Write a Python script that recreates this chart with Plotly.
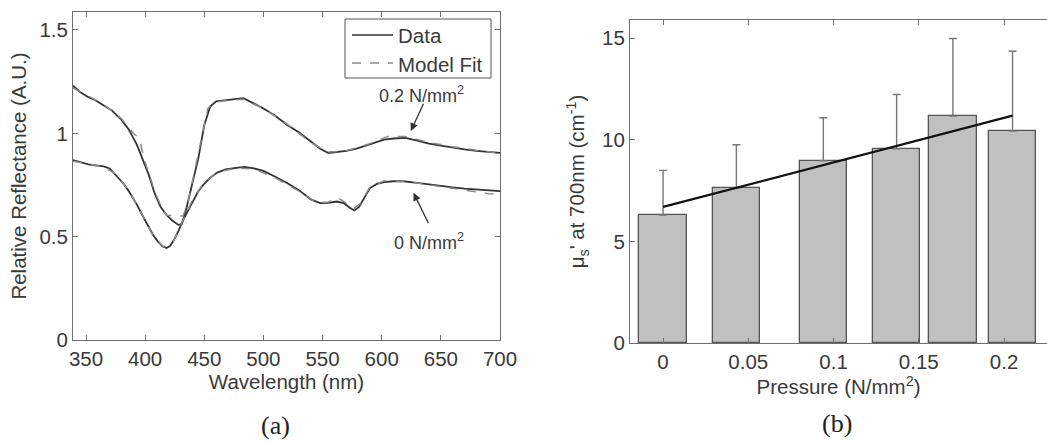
import plotly.graph_objects as go

# ---------------- Panel (a): reflectance spectra ----------------
wl_data_hi = [339, 345, 352, 358, 365, 372, 380, 386, 393, 398, 403, 408, 413, 418, 423, 428, 431,
              435, 440, 445, 450, 455, 460, 468, 476, 483, 490, 500, 510, 520, 530, 540, 548, 555,
              562, 570, 578, 586, 594, 602, 610, 620, 630, 640, 650, 660, 670, 680, 690, 700]
refl_data_hi = [1.23, 1.20, 1.175, 1.16, 1.135, 1.11, 1.065, 1.02, 0.945, 0.87, 0.80, 0.71, 0.645,
                0.605, 0.578, 0.557, 0.56, 0.64, 0.76, 0.88, 1.04, 1.13, 1.155, 1.16, 1.165, 1.17,
                1.15, 1.12, 1.085, 1.04, 1.005, 0.96, 0.925, 0.905, 0.91, 0.915, 0.925, 0.94, 0.955,
                0.97, 0.975, 0.978, 0.965, 0.95, 0.94, 0.93, 0.922, 0.915, 0.91, 0.905]

wl_fit_hi = [339, 352, 365, 380, 390, 395, 400, 408, 414, 418, 428, 432, 436, 442, 448, 453, 458,
             470, 483, 500, 520, 540, 555, 570, 590, 605, 620, 640, 660, 680, 700]
refl_fit_hi = [1.22, 1.18, 1.14, 1.07, 1.00, 0.975, 0.86, 0.72, 0.64, 0.603, 0.603, 0.60, 0.66,
               0.82, 0.99, 1.12, 1.15, 1.16, 1.165, 1.12, 1.045, 0.955, 0.91, 0.915, 0.95, 0.985,
               0.985, 0.955, 0.935, 0.918, 0.905]

wl_data_lo = [339, 345, 352, 358, 365, 370, 376, 382, 387, 393, 398, 403, 407, 411, 415, 418, 421,
              424, 428, 432, 436, 441, 445, 449, 455, 461, 468, 477, 484, 492, 500, 510, 520, 530,
              540, 548, 555, 562, 568, 573, 577, 581, 585, 590, 596, 602, 610, 618, 630, 640, 650,
              660, 670, 680, 690, 700]
refl_data_lo = [0.87, 0.86, 0.85, 0.845, 0.84, 0.83, 0.795, 0.755, 0.712, 0.655, 0.60, 0.545, 0.505,
                0.475, 0.452, 0.445, 0.455, 0.48, 0.525, 0.58, 0.625, 0.68, 0.72, 0.75, 0.785, 0.81,
                0.825, 0.833, 0.838, 0.83, 0.818, 0.79, 0.76, 0.725, 0.68, 0.662, 0.663, 0.67,
                0.662, 0.64, 0.627, 0.645, 0.685, 0.735, 0.755, 0.764, 0.768, 0.768, 0.76, 0.752,
                0.745, 0.738, 0.732, 0.728, 0.724, 0.72]

wl_fit_lo = [339, 352, 365, 376, 387, 398, 407, 415, 418, 424, 432, 441, 449, 461, 477, 492, 510,
             530, 545, 555, 563, 568, 576, 582, 590, 602, 620, 640, 660, 675, 690, 700]
refl_fit_lo = [0.865, 0.85, 0.838, 0.80, 0.715, 0.60, 0.50, 0.455, 0.45, 0.48, 0.58, 0.69, 0.755,
               0.812, 0.832, 0.828, 0.785, 0.72, 0.665, 0.668, 0.688, 0.67, 0.635, 0.66, 0.74,
               0.77, 0.768, 0.75, 0.735, 0.72, 0.708, 0.705]

wl_ticks = [350, 400, 450, 500, 550, 600, 650, 700]
refl_ticks = [0, 0.5, 1, 1.5]
legend_labels = ["Data", "Model Fit"]

# ---------------- Panel (b): scattering vs pressure ----------------
pressure = [0.0, 0.043, 0.094, 0.137, 0.170, 0.205]
mus = [6.3, 7.63, 8.97, 9.56, 11.17, 10.43]
mus_err = [2.2, 2.13, 2.12, 2.67, 3.82, 3.93]
fit_pressure = [0.0, 0.205]
fit_mus = [6.70, 11.19]
pressure_ticks = [0, 0.05, 0.1, 0.15, 0.2]
pressure_labels = ["0", "0.05", "0.1", "0.15", "0.2"]
mus_ticks = [0, 5, 10, 15]

W, H = 1047, 445
DATA_COL = "#333333"
FIT_COL = "#8a8a8a"
AX_COL = "#6e6e6e"
TXT_COL = "#3a3a3a"
FONT = "Liberation Sans, Arial, sans-serif"
SERIF = "Liberation Serif, Times New Roman, serif"
FS = 20.5


def px(x):
    return x / W


def py(y):
    return 1 - y / H


fig = go.Figure()

fig.add_trace(go.Scatter(x=wl_data_hi, y=refl_data_hi, mode="lines", name=legend_labels[0],
                         line=dict(color=DATA_COL, width=1.8), xaxis="x", yaxis="y"))
fig.add_trace(go.Scatter(x=wl_data_lo, y=refl_data_lo, mode="lines", name=legend_labels[0],
                         line=dict(color=DATA_COL, width=1.8), xaxis="x", yaxis="y"))
fig.add_trace(go.Scatter(x=wl_fit_hi, y=refl_fit_hi, mode="lines", name=legend_labels[1],
                         line=dict(color=FIT_COL, width=1.5, dash="dash"), xaxis="x", yaxis="y"))
fig.add_trace(go.Scatter(x=wl_fit_lo, y=refl_fit_lo, mode="lines", name=legend_labels[1],
                         line=dict(color=FIT_COL, width=1.5, dash="dash"), xaxis="x", yaxis="y"))

fig.add_trace(go.Bar(x=pressure, y=mus, width=0.0279, xaxis="x2", yaxis="y2",
                     marker=dict(color="#c0c0c0", line=dict(color="#555555", width=1.3)),
                     error_y=dict(type="data", array=mus_err, arrayminus=[0] * len(mus_err),
                                  symmetric=False, color="#777777", thickness=1.4, width=4)))
fig.add_trace(go.Scatter(x=fit_pressure, y=fit_mus, mode="lines", xaxis="x2", yaxis="y2",
                         line=dict(color="#111111", width=2.2)))

axis_common = dict(showline=True, linecolor=AX_COL, linewidth=1,
                   ticks="inside", ticklen=5, tickcolor=AX_COL, showgrid=False, zeroline=False,
                   automargin=False,
                   tickfont=dict(size=FS, color=TXT_COL, family=FONT))

fig.update_layout(
    width=W, height=H, margin=dict(l=0, r=0, t=0, b=0, autoexpand=False),
    paper_bgcolor="white", plot_bgcolor="white",
    font=dict(family=FONT, size=FS, color=TXT_COL),
    bargap=0, showlegend=False,
    xaxis=dict(domain=[px(73), px(500)], range=[339, 700], tickvals=wl_ticks, mirror="ticks",
               anchor="y", title=dict(text="Wavelength (nm)", standoff=3,
                                      font=dict(size=FS, color=TXT_COL)), **axis_common),
    yaxis=dict(domain=[py(340), py(12)], range=[0, 1.587], tickvals=refl_ticks,
               ticktext=["0", "0.5", "1", "1.5"], anchor="x", mirror="ticks",
               title=dict(text="Relative Reflectance (A.U.)", standoff=7,
                          font=dict(size=FS, color=TXT_COL)), **axis_common),
    xaxis2=dict(domain=[px(630), 1.0], range=[-0.0194, 0.2252], tickvals=pressure_ticks,
                ticktext=pressure_labels, anchor="y2", mirror="ticks",
                title=dict(text="Pressure (N/mm<sup>2</sup>)", standoff=5,
                           font=dict(size=FS, color=TXT_COL)), **axis_common),
    yaxis2=dict(domain=[py(343), py(20)], range=[0, 15.9], tickvals=mus_ticks,
                anchor="x2", mirror=False,
                title=dict(text="\u03bc<sub>s</sub>' at 700nm (cm<sup>-1</sup>)", standoff=11,
                           font=dict(size=FS, color=TXT_COL)), **axis_common),
)

# Legend box drawn in MATLAB style
shapes = [
    dict(type="rect", xref="paper", yref="paper", x0=px(345), x1=px(491), y0=py(78), y1=py(19),
         line=dict(color="#555555", width=1), fillcolor="white", layer="above"),
    dict(type="line", xref="paper", yref="paper", x0=px(352), x1=px(393), y0=py(35), y1=py(35),
         line=dict(color=DATA_COL, width=1.5), layer="above"),
    dict(type="line", xref="paper", yref="paper", x0=px(352), x1=px(393), y0=py(63), y1=py(63),
         line=dict(color=FIT_COL, width=1.5, dash="dash"), layer="above"),
]
fig.update_layout(shapes=shapes)

annos = [
    dict(text=legend_labels[0], x=px(396), y=py(36), xref="paper", yref="paper",
         xanchor="left", yanchor="middle", showarrow=False, font=dict(size=FS, color=TXT_COL)),
    dict(text=legend_labels[1], x=px(396), y=py(64), xref="paper", yref="paper",
         xanchor="left", yanchor="middle", showarrow=False, font=dict(size=FS, color=TXT_COL)),
    dict(text="0.2 N/mm<sup>2</sup>", x=634, y=1.19, xref="x", yref="y", showarrow=False,
         font=dict(size=18, color=TXT_COL)),
    dict(text="0 N/mm<sup>2</sup>", x=640, y=0.476, xref="x", yref="y", showarrow=False,
         font=dict(size=18, color=TXT_COL)),
    dict(text="", x=624.6, y=1.011, ax=635.9, ay=1.15, xref="x", yref="y", axref="x", ayref="y",
         showarrow=True, arrowhead=2, arrowsize=1.2, arrowwidth=1.3, arrowcolor="#333333"),
    dict(text="", x=626.9, y=0.712, ax=640.1, ay=0.558, xref="x", yref="y", axref="x", ayref="y",
         showarrow=True, arrowhead=2, arrowsize=1.2, arrowwidth=1.3, arrowcolor="#333333"),
    dict(text="(a)", x=px(276), y=py(425), xref="paper", yref="paper", showarrow=False,
         xanchor="center", yanchor="middle",
         font=dict(size=26, family=SERIF, color="#222222")),
    dict(text="(b)", x=px(837), y=py(423), xref="paper", yref="paper", showarrow=False,
         xanchor="center", yanchor="middle",
         font=dict(size=26, family=SERIF, color="#222222")),
]
fig.update_layout(annotations=annos)

fig.write_html("out.html")
